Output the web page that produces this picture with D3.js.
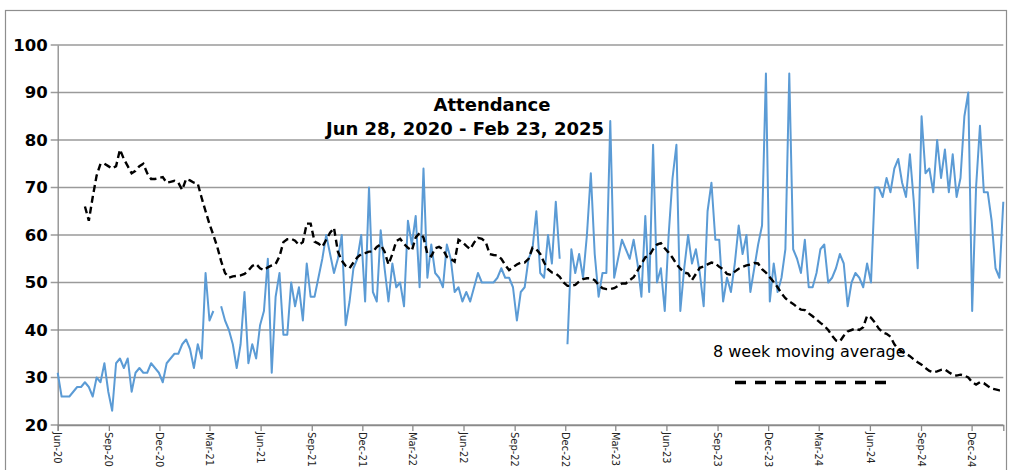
<!DOCTYPE html>
<html>
<head>
<meta charset="utf-8">
<script src="https://cdn.jsdelivr.net/npm/d3@7"></script>
<style>
body { margin: 0; background: #fff; }
svg { display: block; font-family: "DejaVu Sans", sans-serif; }
</style>
</head>
<body>
<script>
var w = 1009;
var h = 470;

//Data - one value per Sunday, starting Jun 28, 2020 (null = no service recorded)
var startDate = "2020-06-28";
var endDate = "2025-02-23";
var attendance = [
	31,26,26,26,27,28,28,29,28,26,
	30,29,33,27,23,33,34,32,34,27,
	31,32,31,31,33,32,31,29,33,34,
	35,35,37,38,36,32,37,34,52,42,
	44,null,45,42,40,37,32,37,48,33,
	37,34,41,44,55,31,47,52,39,39,
	50,45,49,42,54,47,47,51,55,60,
	56,52,55,60,41,46,53,55,60,46,
	70,48,46,61,53,46,54,49,50,45,
	63,58,64,49,74,51,58,52,51,49,
	58,55,48,49,46,48,46,49,52,50,
	50,50,50,51,53,51,51,49,42,48,
	49,55,57,65,52,51,60,54,67,55,
	null,37,57,52,56,51,60,73,56,47,
	52,52,84,51,55,59,57,55,59,54,
	47,64,48,79,50,53,44,60,72,79,
	44,53,60,54,57,52,45,65,71,59,
	59,46,51,48,54,62,56,60,48,53,
	58,62,94,46,54,48,51,57,94,57,
	55,52,59,49,49,52,57,58,50,51,
	53,56,54,45,50,52,51,49,54,50,
	70,70,68,72,69,74,76,71,68,77,
	67,53,85,73,74,69,80,72,78,69,
	77,68,72,85,90,44,70,83,69,69,
	63,53,51,67
];
var movingAvg = [
	null,null,null,null,null,null,null,66,63,68,
	72.5,75,75,74.5,74,74.5,78,76,74.5,73,
	73.5,74.5,75,73,71.8,71.8,72,72.2,71,71.2,
	71.4,71,69.5,71.8,71.5,71,70.8,67.8,65,62.3,
	60,57.5,54.5,52,51,51.3,51.4,51.5,51.8,52.5,
	53.5,53.9,53,52.6,53.2,53.6,53.9,55.5,58.5,59.1,
	59.2,58.8,57.9,58.5,62.4,62.4,58.6,58.2,57.5,59,
	60.5,61.5,56.5,54.6,53.5,53,54.2,55.3,56,56.2,
	56.5,56.5,57.5,58,56.5,53.8,56,58.7,59.2,58.1,
	57.3,56.7,59.5,60.4,59.5,56,55.5,57.2,57.5,57,
	55.4,55,54.4,59,58.5,57.7,57,58.4,59.4,59.2,
	58.5,56,55.8,55.7,55,53.7,52.6,53.2,53.8,54.2,
	54.2,55,57.3,57,56,54.2,52.8,52.1,51.9,51.2,
	50,49.3,49.3,49.5,50.2,50.7,50.9,50.9,50.5,49.5,
	48.8,48.6,48.6,48.8,49.3,49.8,49.8,50.5,51.1,52.5,
	53.9,55.3,55.6,57,58,58.3,57.2,56.3,55.2,53.9,
	52.9,52.1,51.9,50.5,51.8,53.1,53.4,53.8,54.2,54,
	53.3,52.8,51.8,51.6,52.3,52.9,53.3,53.6,53.8,54.1,
	54,52.8,52.1,51.1,50.1,49,47.7,46.7,46,45.5,
	44.8,44.3,44.2,43.5,42.9,42.2,41.5,40.9,40,38.8,
	37.8,37.6,38.8,39.7,40,40.3,40,40.6,43,42.6,
	41.6,40.3,39.5,39.2,38.6,37,36,35.4,35,34.5,
	33.8,33.2,32.7,32,31.4,31.1,31.3,31.6,31.7,31.1,
	30.6,30.4,30.6,30.4,30,29,28.5,29,28.8,28.2,
	27.7,27.5,27.3,27.3
];
var tickLabels = ["Jun-20","Sep-20","Dec-20","Mar-21","Jun-21","Sep-21","Dec-21",
	"Mar-22","Jun-22","Sep-22","Dec-22","Mar-23","Jun-23","Sep-23","Dec-23",
	"Mar-24","Jun-24","Sep-24","Dec-24"];
var yTicks = [20,30,40,50,60,70,80,90,100];
var titleLines = ["Attendance", "Jun 28, 2020 - Feb 23, 2025"];
var legendText = "8 week moving average";

var plotLeft = 57.7, plotRight = 1003.3, plotTop = 45, plotBottom = 425;

var parse = d3.utcParse("%Y-%m-%d");
var start = parse(startDate);

var x = d3.scaleUtc()
	.domain([start, parse(endDate)])
	.range([plotLeft, plotRight]);
var y = d3.scaleLinear()
	.domain([20, 100])
	.range([plotBottom, plotTop]);

function weekly(values) {
	return values.map(function(v, i) {
		return {date: d3.utcDay.offset(start, 7 * i), v: v};
	});
}
var attData = weekly(attendance);
var maData = weekly(movingAvg);
var tickDates = tickLabels.map(function(d, i) {
	return d3.utcMonth.offset(start, 3 * i);
});

//Create svg
var svg = d3.select("body")
	.append("svg")
	.attr("width", w)
	.attr("height", h);

//chart frame
svg.append("rect")
	.attr("x", 5.5)
	.attr("y", 10.5)
	.attr("width", 1001)
	.attr("height", 470)
	.attr("fill", "none")
	.attr("stroke", "#8e8e8e")
	.attr("stroke-width", 1.2);

//gridlines
svg.selectAll("line.grid")
	.data(yTicks)
	.enter()
	.append("line")
	.attr("class", "grid")
	.attr("x1", plotLeft - 7)
	.attr("x2", plotRight)
	.attr("y1", function(d) { return y(d); })
	.attr("y2", function(d) { return y(d); })
	.attr("stroke", "#9a9a9a")
	.attr("stroke-width", 1.3);

//y axis
var yAxis = d3.axisLeft(y)
	.tickValues(yTicks)
	.tickSize(0)
	.tickPadding(10);
var gy = svg.append("g")
	.attr("transform", "translate(" + plotLeft + ",0)")
	.call(yAxis);
gy.select(".domain").attr("stroke", "#8a8a8a").attr("stroke-width", 1.3);
gy.selectAll("text")
	.attr("font-family", "DejaVu Sans")
	.attr("font-size", 16.5)
	.attr("font-weight", "bold")
	.attr("fill", "#000");

//x axis
var xAxis = d3.axisBottom(x)
	.tickValues(tickDates)
	.tickSize(6)
	.tickFormat(function(d, i) { return tickLabels[i]; });
var gx = svg.append("g")
	.attr("transform", "translate(0," + plotBottom + ")")
	.call(xAxis);
gx.select(".domain").attr("stroke", "#8a8a8a").attr("stroke-width", 1.3);
gx.selectAll("line").attr("stroke", "#8a8a8a").attr("stroke-width", 1.3);
gx.selectAll("text")
	.attr("font-family", "DejaVu Sans Condensed")
	.attr("font-size", 11)
	.attr("fill", "#222")
	.attr("text-anchor", "start")
	.attr("transform", "rotate(90)")
	.attr("x", 7)
	.attr("y", 0)
	.attr("dy", "0.35em");

//series
var line = d3.line()
	.defined(function(d) { return d.v != null; })
	.x(function(d) { return x(d.date); })
	.y(function(d) { return y(d.v); });

svg.append("path")
	.datum(attData)
	.attr("d", line)
	.attr("fill", "none")
	.attr("stroke", "#5b9bd5")
	.attr("stroke-width", 2)
	.attr("stroke-linejoin", "round");

//title
svg.selectAll("text.title")
	.data(titleLines)
	.enter()
	.append("text")
	.attr("class", "title")
	.attr("x", function(d, i) { return i == 0 ? 492 : 465; })
	.attr("y", function(d, i) { return 111 + i * 24; })
	.attr("text-anchor", "middle")
	.attr("font-size", 18)
	.attr("font-weight", "bold")
	.attr("fill", "#000")
	.text(function(d) { return d; });

//legend label
svg.append("text")
	.attr("x", 713)
	.attr("y", 357)
	.attr("font-size", 16)
	.attr("fill", "#000")
	.text(legendText);

svg.append("path")
	.datum(maData)
	.attr("d", line)
	.attr("fill", "none")
	.attr("stroke", "#000")
	.attr("stroke-width", 2.4)
	.attr("stroke-dasharray", "7,4");

svg.append("line")
	.attr("x1", 735)
	.attr("x2", 887)
	.attr("y1", 382.5)
	.attr("y2", 382.5)
	.attr("stroke", "#000")
	.attr("stroke-width", 3.3)
	.attr("stroke-dasharray", "11,9");
</script>
</body>
</html>
